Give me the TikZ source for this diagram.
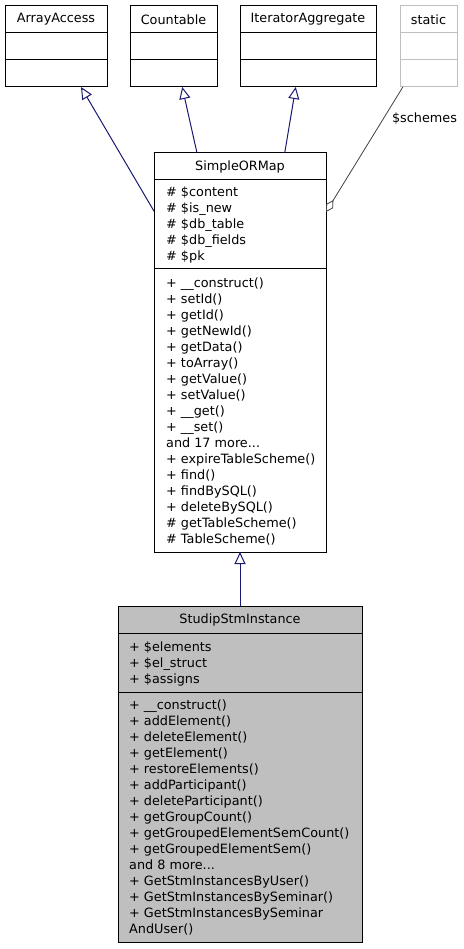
\documentclass[tikz,border=0pt]{standalone}
\usepackage{fontspec}
\setmainfont{DejaVu Sans}
\usetikzlibrary{arrows.meta,positioning,calc}
\definecolor{edgeblue}{HTML}{191970}
\definecolor{boxgray}{HTML}{BFBFBF}
\definecolor{linkgray}{HTML}{404040}
\tikzstyle{hdr} = [draw, line width=1pt, outer sep=0pt, inner sep=0pt, minimum height=27pt, anchor=north west, font=\fontsize{12.8pt}{16pt}\selectfont]
\tikzstyle{cmp} = [draw, line width=1pt, outer sep=0pt, inner sep=0pt, minimum height=27pt]
\tikzstyle{mbr} = [anchor=base west, align=left, inner sep=0pt, font=\fontsize{12.8pt}{16pt}\selectfont]
\tikzstyle{inh} = [edgeblue, line width=1pt, -{Triangle[open, length=12pt, width=11pt, fill=white]}]
\tikzstyle{agg} = [linkgray, line width=0.8pt, {Diamond[open, length=14pt, width=8pt, fill=white]}-]

\begin{document}
\begin{tikzpicture}[x=1pt, y=1pt, yscale=-1]
			\useasboundingbox (0,0) rectangle (463,949);
			% interfaces on top
			\node[hdr, minimum width=102pt] (arrayaccess) at (5,6) {ArrayAccess};
			\node[cmp, minimum width=102pt, below=0pt of arrayaccess] (arrayaccessA) {};
			\node[cmp, minimum width=102pt, below=0pt of arrayaccessA] (arrayaccessM) {};
			\node[hdr, minimum width=87pt] (countable) at (130,6) {Countable};
			\node[cmp, minimum width=87pt, below=0pt of countable] (countableA) {};
			\node[cmp, minimum width=87pt, below=0pt of countableA] (countableM) {};
			\node[hdr, minimum width=136pt] (iterator) at (240,6) {IteratorAggregate};
			\node[cmp, minimum width=136pt, below=0pt of iterator] (iteratorA) {};
			\node[cmp, minimum width=136pt, below=0pt of iteratorA] (iteratorM) {};
			\node[hdr, draw=boxgray, minimum width=57pt] (static) at (400,6) {static};
			\node[cmp, draw=boxgray, minimum width=57pt, below=0pt of static] (staticA) {};
			\node[cmp, draw=boxgray, minimum width=57pt, below=0pt of staticA] (staticM) {};
			% SimpleORMap (member texts sit on their last baseline)
			\node[hdr, minimum width=172pt] (sorm) at (154,153) {SimpleORMap};
			\node[cmp, minimum width=172pt, minimum height=89pt, below=0pt of sorm] (sormA) {};
			\node[cmp, minimum width=172pt, minimum height=283pt, below=0pt of sormA] (sormM) {};
			\node[mbr] (sormAtext) at (166,260.5) {\# \$content\\\# \$is\_new\\\# \$db\_table\\\# \$db\_fields\\\# \$pk};
			\node[mbr] (sormMtext) at (166,543.5) {+ \_\_construct()\\+ setId()\\+ getId()\\+ getNewId()\\+ getData()\\+ toArray()\\+ getValue()\\+ setValue()\\+ \_\_get()\\+ \_\_set()\\and 17 more...\\+ expireTableScheme()\\+ find()\\+ findBySQL()\\+ deleteBySQL()\\\# getTableScheme()\\\# TableScheme()};
			% StudipStmInstance
			\node[hdr, fill=boxgray, minimum width=244pt] (stm) at (118,606) {StudipStmInstance};
			\node[cmp, fill=boxgray, minimum width=244pt, minimum height=59pt, below=0pt of stm] (stmA) {};
			\node[cmp, fill=boxgray, minimum width=244pt, minimum height=250pt, below=0pt of stmA] (stmM) {};
			\node[mbr] (stmAtext) at (129,683.5) {+ \$elements\\+ \$el\_struct\\+ \$assigns};
			\node[mbr] (stmMtext) at (129,933.5) {+ \_\_construct()\\+ addElement()\\+ deleteElement()\\+ getElement()\\+ restoreElements()\\+ addParticipant()\\+ deleteParticipant()\\+ getGroupCount()\\+ getGroupedElementSemCount()\\+ getGroupedElementSem()\\and 8 more...\\+ GetStmInstancesByUser()\\+ GetStmInstancesBySeminar()\\+ GetStmInstancesBySeminar\\AndUser()};
			% connectors
			\draw[inh] (stm.north) -- (sormM.south);
			\draw[inh] ($(sormA.north west)!0.35!(sormA.south west)$) -- ($(arrayaccessM.south west)!0.745!(arrayaccessM.south east)$);
			\draw[inh] ($(sorm.north west)!0.25!(sorm.north east)$) -- ($(countableM.south west)!0.6!(countableM.south east)$);
			\draw[inh] ($(sorm.north west)!0.76!(sorm.north east)$) -- ($(iteratorM.south west)!0.41!(iteratorM.south east)$);
			\draw[agg] ($(sormA.north east)!0.36!(sormA.south east)$) -- ($(staticM.south west)!0.05!(staticM.south east)$);
			\node[mbr, anchor=center] (schemes) at (424.5,119) {\$schemes};
		\end{tikzpicture}
\end{document}
